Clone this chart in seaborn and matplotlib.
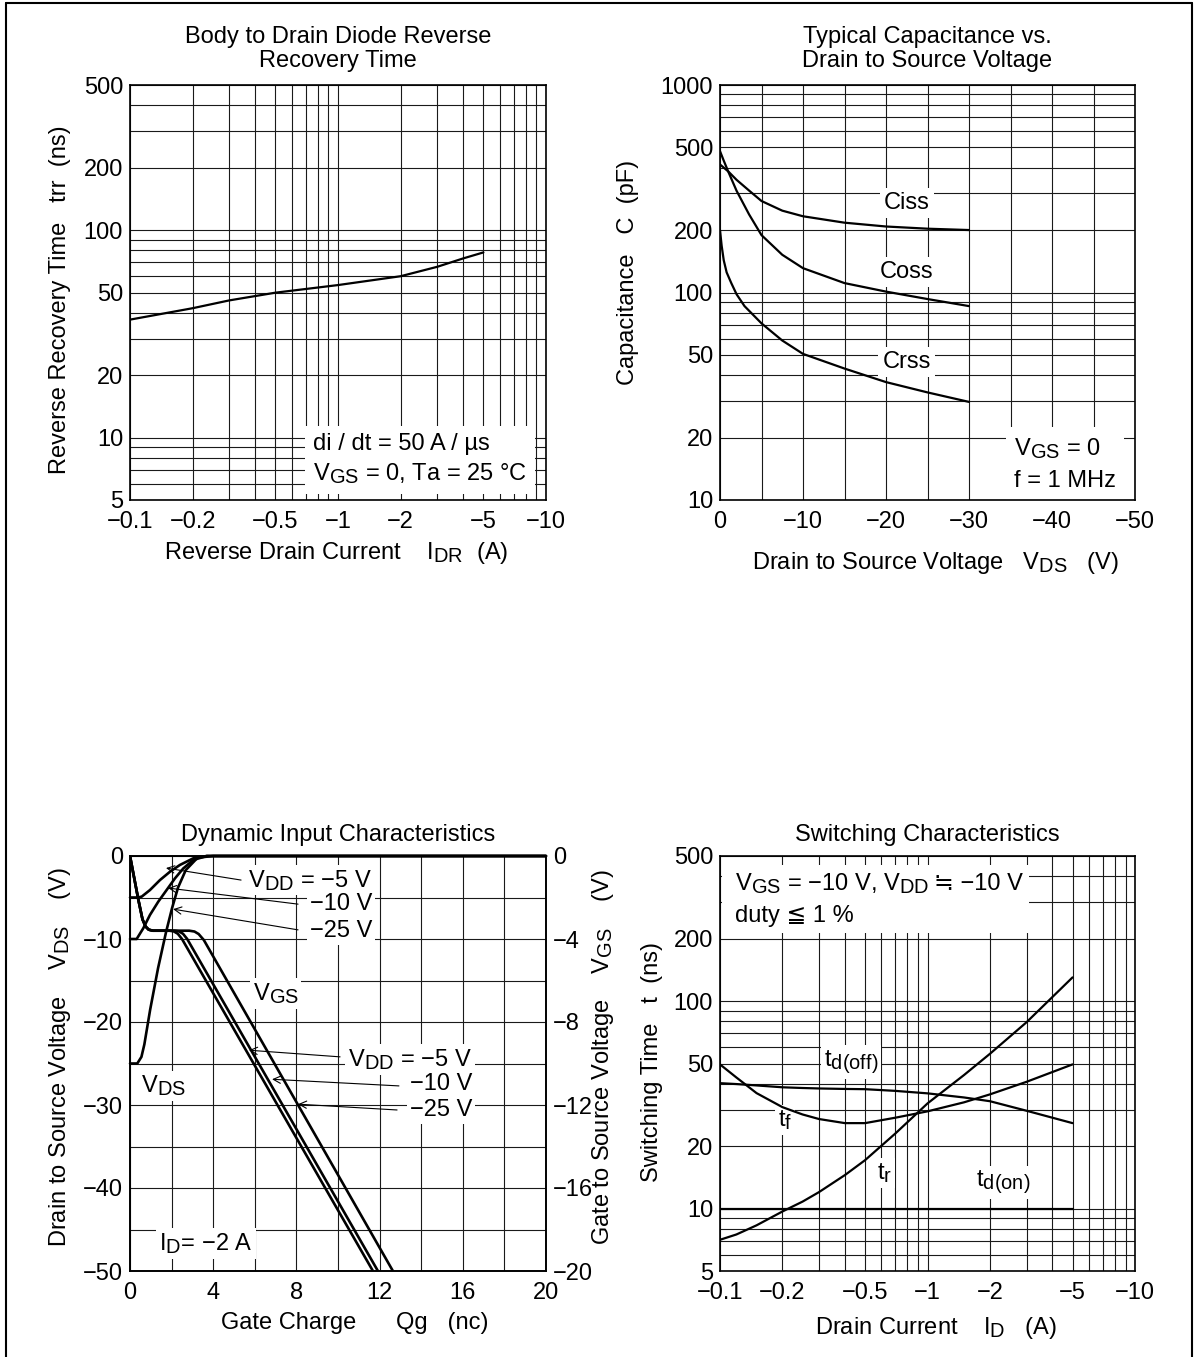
import numpy as np
import pandas as pd
import matplotlib
matplotlib.use("Agg")
import matplotlib.pyplot as plt
import seaborn as sns
from matplotlib.ticker import FixedLocator, NullFormatter, LogLocator, MultipleLocator
from matplotlib.lines import Line2D
from matplotlib.patches import Rectangle

try:  # larger subscripts, as in the datasheet typography
    import matplotlib._mathtext as _mt
    _mt.SHRINK_FACTOR = 0.85
except Exception:
    pass

# ------------------------------------------------------------------ data
# Panel 1 : body-drain diode reverse recovery time vs |I_DR| (A)
trr_idr = [0.1, 0.2, 0.3, 0.5, 1.0, 2.0, 3.0, 4.0, 5.0]
trr_ns = [37.0, 42.0, 45.8, 49.9, 54.3, 59.9, 66.5, 73.0, 78.0]

# Panel 2 : capacitance vs V_DS (V)
cap_vds_iss = [0, -1, -2, -3.5, -5, -7.5, -10, -15, -20, -25, -30]
ciss_pf = [414, 383, 349, 310, 276, 248, 233, 217, 208, 203, 200]
cap_vds_oss = [0, -0.45, -1, -2, -3.5, -5, -7.5, -10, -15, -20, -25, -30]
coss_pf = [480, 432, 382, 309, 238, 189, 152, 131, 111, 101, 93, 86]
cap_vds_rss = [0, -0.2, -0.45, -0.8, -1.36, -2.0, -2.95, -5, -7.5, -10, -15, -20, -25, -30]
crss_pf = [200, 168, 143, 125, 111, 98, 86, 71, 58.7, 50.6, 43, 37, 33, 29.7]

# Panel 3 : dynamic input characteristics, Qg (nC)
# V_DS curves (left axis, V)
qg_vds_5 = [0, 0.35, 0.56, 0.96, 1.44, 1.92, 2.4, 3.04, 3.69, 20]
vds_5 = [-5, -5, -4.9, -4.1, -2.9, -1.9, -1.08, -0.28, 0, 0]
qg_vds_10 = [0, 0.32, 0.64, 0.96, 1.36, 1.76, 2.16, 2.56, 3.04, 3.69, 20]
vds_10 = [-10, -10, -8.7, -7.1, -5.5, -4.1, -2.7, -1.5, -0.48, 0, 0]
qg_vds_25 = [0, 0.35, 0.55, 0.69, 0.97, 1.35, 1.73, 2.02, 2.31, 2.68, 3.25, 4.0, 20]
vds_25 = [-25, -25, -24.2, -22.7, -18.5, -13.5, -9.2, -6.3, -3.8, -1.7, -0.2, 0, 0]
# V_GS curves (right axis, V)
qg_vgs_5 = [0, 0.2, 0.4, 0.6, 0.75, 0.9, 1.1, 1.9, 2.1, 2.3, 2.5, 11.68]
vgs_5 = [0, -1.05, -2.1, -3.05, -3.4, -3.55, -3.6, -3.6, -3.63, -3.75, -4.0, -20]
qg_vgs_10 = [0, 0.2, 0.4, 0.6, 0.75, 0.9, 1.1, 2.15, 2.35, 2.55, 2.75, 11.92]
vgs_10 = [0, -1.05, -2.1, -3.05, -3.4, -3.55, -3.6, -3.6, -3.63, -3.75, -4.0, -20]
qg_vgs_25 = [0, 0.2, 0.4, 0.6, 0.75, 0.9, 1.1, 2.85, 3.1, 3.3, 3.55, 12.64]
vgs_25 = [0, -1.05, -2.1, -3.05, -3.4, -3.55, -3.6, -3.6, -3.64, -3.76, -4.05, -20]

# Panel 4 : switching characteristics vs |I_D| (A)
sw_id = [0.1, 0.12, 0.15, 0.2, 0.25, 0.3, 0.4, 0.5, 0.7, 1.0, 1.5, 2.0, 3.0, 5.0]
tr_ns = [7.07, 7.5, 8.3, 9.68, 10.8, 12.0, 14.5, 17.1, 23.0, 32.1, 44.0, 55.7, 79.0, 130.0]
tf_ns = [49.5, 42.8, 36.0, 30.8, 28.4, 27.0, 25.8, 25.8, 27.4, 29.4, 32.5, 35.5, 40.8, 49.5]
tdoff_ns = [40.2, 39.8, 39.2, 38.4, 38.1, 37.9, 37.7, 37.6, 36.9, 35.9, 34.3, 32.9, 29.6, 25.8]
tdon_id = [0.1, 5.0]
tdon_ns = [10.0, 10.0]

# ------------------------------------------------------------------ style
sns.set_theme(style="white")
plt.rcParams["font.family"] = ["Liberation Sans", "DejaVu Sans"]
plt.rcParams.update({
    "mathtext.fontset": "custom",
    "mathtext.rm": "Liberation Sans",
    "mathtext.it": "Liberation Sans:italic",
    "mathtext.bf": "Liberation Sans:bold",
    "mathtext.default": "regular",
    "font.size": 17,
    "axes.edgecolor": "black",
    "axes.linewidth": 1.2,
    "text.color": "black",
    "axes.labelcolor": "black",
    "xtick.color": "black",
    "ytick.color": "black",
})

W, H = 1195, 1357
fig = plt.figure(figsize=(W / 100, H / 100), dpi=100)


def box(l, t, r, b):
    return [l / W, 1 - b / H, (r - l) / W, (b - t) / H]


FS = 17
LW = 1.6
GRID = dict(color="#1a1a1a", lw=0.8)
TBOX = dict(facecolor="white", edgecolor="none", pad=2)


def style_axis(ax):
    ax.set_axisbelow(True)
    ax.grid(which="both", **GRID)
    ax.tick_params(which="both", length=0, labelsize=FS)
    ax.tick_params(axis="x", pad=8)
    ax.tick_params(axis="y", pad=5)
    for s in ax.spines.values():
        s.set_visible(True)
        s.set_color("black")
        s.set_linewidth(1.2)


def log_ticks(axis, major, labels):
    axis.set_major_locator(FixedLocator(major))
    axis.set_minor_locator(LogLocator(base=10, subs=np.arange(2, 10), numticks=30))
    axis.set_minor_formatter(NullFormatter())
    axis.set_ticklabels(labels)


def neg(v):
    s = f"{v:g}"
    return s if v == 0 else "\u2212" + s


# ------------------------------------------------------------------ panel 1
ax1 = fig.add_axes(box(130, 85, 546, 500))
sns.lineplot(x=trr_idr, y=trr_ns, ax=ax1, color="black", lw=LW, sort=False, estimator=None)
ax1.set_xscale("log")
ax1.set_yscale("log")
ax1.set_xlim(0.1, 10)
ax1.set_ylim(5, 500)
xt = [0.1, 0.2, 0.5, 1, 2, 5, 10]
yt = [5, 10, 20, 50, 100, 200, 500]
log_ticks(ax1.xaxis, xt, [neg(v) for v in xt])
log_ticks(ax1.yaxis, yt, [f"{v:g}" for v in yt])
style_axis(ax1)
ax1.set_title("Body to Drain Diode Reverse\nRecovery Time", fontsize=FS, pad=13, linespacing=1.1)
ax1.set_ylabel("Reverse Recovery Time   trr  (ns)", fontsize=FS, va="center")
ax1.yaxis.set_label_coords(-0.168, 0.482)
ax1.set_xlabel("Reverse Drain Current    $I_{DR}$  (A)", fontsize=FS, va="center")
ax1.xaxis.set_label_coords(0.495, -0.128)
ax1.text(0.76, 7.85, "di / dt = 50 A / \u00b5s\n$V_{GS}$ = 0, Ta = 25 \u00b0C", fontsize=FS,
         ha="left", va="center", linespacing=1.3, zorder=2.5,
         bbox=dict(facecolor="white", edgecolor="none", pad=6))

# ------------------------------------------------------------------ panel 2
ax2 = fig.add_axes(box(720, 85, 1135, 500))
for xs, ys in [(cap_vds_iss, ciss_pf), (cap_vds_oss, coss_pf), (cap_vds_rss, crss_pf)]:
    sns.lineplot(x=xs, y=ys, ax=ax2, color="black", lw=LW, sort=False, estimator=None, zorder=3)
ax2.set_yscale("log")
ax2.set_xlim(0, -50)
ax2.set_ylim(10, 1000)
ax2.xaxis.set_major_locator(FixedLocator([0, -10, -20, -30, -40, -50]))
ax2.xaxis.set_minor_locator(MultipleLocator(5))
ax2.set_xticklabels([neg(-v) for v in [0, -10, -20, -30, -40, -50]])
yt2 = [10, 20, 50, 100, 200, 500, 1000]
log_ticks(ax2.yaxis, yt2, [f"{v:g}" for v in yt2])
style_axis(ax2)
ax2.set_title("Typical Capacitance vs.\nDrain to Source Voltage", fontsize=FS, pad=13, linespacing=1.1)
ax2.set_ylabel("Capacitance   C  (pF)", fontsize=FS, va="center")
ax2.yaxis.set_label_coords(-0.222, 0.549)
ax2.set_xlabel("Drain to Source Voltage   $V_{DS}$   (V)", fontsize=FS, va="center")
ax2.xaxis.set_label_coords(0.518, -0.152)
for lab, yv in [("Ciss", 270), ("Coss", 125.6), ("Crss", 46.2)]:
    ax2.text(-22.5, yv, lab, fontsize=FS, ha="center", va="center", zorder=2.5,
             bbox=dict(facecolor="white", edgecolor="none", pad=3))
ax2.text(-35.4, 14.9, "$V_{GS}$ = 0\nf = 1 MHz", fontsize=FS, ha="left", va="center",
         linespacing=1.5, zorder=2.5, bbox=dict(facecolor="white", edgecolor="none", pad=6))

# ------------------------------------------------------------------ panel 3
ax3 = fig.add_axes(box(130, 856, 546, 1271))
ax3r = ax3.twinx()
for xs, ys in [(qg_vds_5, vds_5), (qg_vds_10, vds_10), (qg_vds_25, vds_25)]:
    sns.lineplot(x=xs, y=ys, ax=ax3, color="black", lw=LW + 0.3, sort=False,
                 estimator=None, zorder=3, clip_on=False)
for xs, ys in [(qg_vgs_5, vgs_5), (qg_vgs_10, vgs_10), (qg_vgs_25, vgs_25)]:
    sns.lineplot(x=xs, y=ys, ax=ax3r, color="black", lw=LW + 0.3, sort=False,
                 estimator=None, zorder=3)
ax3.set_xlim(0, 20)
ax3.set_ylim(-50, 0)
ax3r.set_ylim(-20, 0)
ax3.xaxis.set_major_locator(FixedLocator([0, 4, 8, 12, 16, 20]))
ax3.xaxis.set_minor_locator(MultipleLocator(2))
ax3.yaxis.set_major_locator(FixedLocator([0, -10, -20, -30, -40, -50]))
ax3.yaxis.set_minor_locator(MultipleLocator(5))
style_axis(ax3)
ax3r.yaxis.set_major_locator(FixedLocator([0, -4, -8, -12, -16, -20]))
ax3r.grid(False)
ax3r.tick_params(which="both", length=0, labelsize=FS, pad=5)
for s in ax3r.spines.values():
    s.set_color("black")
    s.set_linewidth(1.2)
ax3.set_title("Dynamic Input Characteristics", fontsize=FS, pad=11)
ax3.set_ylabel("Drain to Source Voltage    $V_{DS}$    (V)", fontsize=FS, va="center")
ax3.yaxis.set_label_coords(-0.168, 0.516)
ax3r.set_ylabel("Gate to Source Voltage    $V_{GS}$    (V)", fontsize=FS, va="center", rotation=90)
ax3r.yaxis.set_label_coords(1.137, 0.516)
ax3.set_xlabel("Gate Charge      Qg   (nc)", fontsize=FS, va="center")
ax3.xaxis.set_label_coords(0.541, -0.125)

arrow = dict(arrowstyle="->", lw=0.8, color="black", shrinkA=0, shrinkB=0, mutation_scale=13)
# V_DS group
ax3.text(11.63, -2.9, "$V_{DD}$ = \u22125 V", fontsize=FS, ha="right", va="center", zorder=2.5, bbox=TBOX)
ax3.text(11.63, -5.8, "\u221210 V", fontsize=FS, ha="right", va="center", zorder=2.5, bbox=TBOX)
ax3.text(11.63, -9.0, "\u221225 V", fontsize=FS, ha="right", va="center", zorder=2.5, bbox=TBOX)
ax3.annotate("", xy=(1.73, -1.45), xytext=(5.34, -2.9), arrowprops=arrow, zorder=4)
ax3.annotate("", xy=(1.83, -3.86), xytext=(8.08, -5.8), arrowprops=arrow, zorder=4)
ax3.annotate("", xy=(2.07, -6.4), xytext=(8.08, -8.9), arrowprops=arrow, zorder=4)
# V_GS group
ax3.text(16.44, -24.5, "$V_{DD}$ = \u22125 V", fontsize=FS, ha="right", va="center", zorder=2.5, bbox=TBOX)
ax3.text(16.44, -27.5, "\u221210 V", fontsize=FS, ha="right", va="center", zorder=2.5, bbox=TBOX)
ax3.text(16.44, -30.6, "\u221225 V", fontsize=FS, ha="right", va="center", zorder=2.5, bbox=TBOX)
ax3.annotate("", xy=(5.72, -23.4), xytext=(10.1, -24.2), arrowprops=arrow, zorder=4)
ax3.annotate("", xy=(6.83, -26.9), xytext=(12.93, -27.7), arrowprops=arrow, zorder=4)
ax3.annotate("", xy=(8.08, -29.9), xytext=(12.84, -30.6), arrowprops=arrow, zorder=4)
ax3.text(7.0, -16.6, "$V_{GS}$", fontsize=FS, ha="center", va="center", zorder=2.5, bbox=TBOX)
ax3.text(1.59, -27.7, "$V_{DS}$", fontsize=FS, ha="center", va="center", zorder=2.5, bbox=TBOX)
ax3.text(1.4, -46.7, "$I_{D}$= \u22122 A", fontsize=FS, ha="left", va="center", zorder=2.5, bbox=TBOX)

# ------------------------------------------------------------------ panel 4
ax4 = fig.add_axes(box(720, 856, 1135, 1271))
for ys in [tr_ns, tf_ns, tdoff_ns]:
    sns.lineplot(x=sw_id, y=ys, ax=ax4, color="black", lw=LW, sort=False, estimator=None, zorder=3)
sns.lineplot(x=tdon_id, y=tdon_ns, ax=ax4, color="black", lw=LW, sort=False, estimator=None, zorder=3)
ax4.set_xscale("log")
ax4.set_yscale("log")
ax4.set_xlim(0.1, 10)
ax4.set_ylim(5, 500)
log_ticks(ax4.xaxis, xt, [neg(v) for v in xt])
log_ticks(ax4.yaxis, yt, [f"{v:g}" for v in yt])
style_axis(ax4)
ax4.set_title("Switching Characteristics", fontsize=FS, pad=11)
ax4.set_ylabel("Switching Time   t  (ns)", fontsize=FS, va="center")
ax4.yaxis.set_label_coords(-0.164, 0.504)
ax4.set_xlabel("Drain Current    $I_{D}$   (A)", fontsize=FS, va="center")
ax4.xaxis.set_label_coords(0.52, -0.137)
ax4.text(0.317, 50.8, "$t_{d(off)}$", fontsize=FS, ha="left", va="center", zorder=2.5, bbox=TBOX)
ax4.text(0.19, 26.7, "$t_{f}$", fontsize=FS, ha="left", va="center", zorder=2.5, bbox=TBOX)
ax4.text(0.571, 14.8, "$t_{r}$", fontsize=FS, ha="left", va="center", zorder=2.5, bbox=TBOX)
ax4.text(1.71, 13.4, "$t_{d(on)}$", fontsize=FS, ha="left", va="center", zorder=2.5, bbox=TBOX)

# condition block (two pieces on line 1 so that \u2252 comes from DejaVu Sans)
c1 = ax4.text(0.118, 343, "$V_{GS}$ = \u221210 V, $V_{DD}$", fontsize=FS, ha="left", va="baseline", zorder=2.6)
c3 = ax4.text(0.118, 240, "duty \u2266 1 %", fontsize=FS, ha="left", va="baseline", zorder=2.6)
fig.canvas.draw()
rend = fig.canvas.get_renderer()
w1 = c1.get_window_extent(rend).width
c2 = ax4.annotate("\u2252 \u221210 V", xy=(0.118, 343), xycoords="data",
                  xytext=((w1 + 5) * 72 / 100, 0), textcoords="offset points",
                  fontsize=FS, ha="left", va="baseline", zorder=2.6)
fig.canvas.draw()
bbs = [t.get_window_extent(rend) for t in (c1, c2, c3)]
x0 = min(b.x0 for b in bbs) - 13
x1 = max(b.x1 for b in bbs) + 6
y0 = min(b.y0 for b in bbs) - 6
y1 = max(b.y1 for b in bbs) + 6
inv = ax4.transAxes.inverted()
(ax0, ay0), (ax1_, ay1) = inv.transform([(x0, y0), (x1, y1)])
ax4.add_patch(Rectangle((ax0, ay0), ax1_ - ax0, ay1 - ay0, transform=ax4.transAxes,
                        facecolor="white", edgecolor="none", zorder=2.4))

# ------------------------------------------------------------------ page frame
for xs, ys in [([5.5, 5.5], [0, H - 2.5]), ([5.5, 1192], [H - 2.5, H - 2.5]), ([1192, 1192], [0, H - 2.5])]:
    fig.add_artist(Line2D([x / W for x in xs], [y / H for y in ys], transform=fig.transFigure,
                          color="black", lw=1.5))

fig.savefig("out.png", dpi=100)
